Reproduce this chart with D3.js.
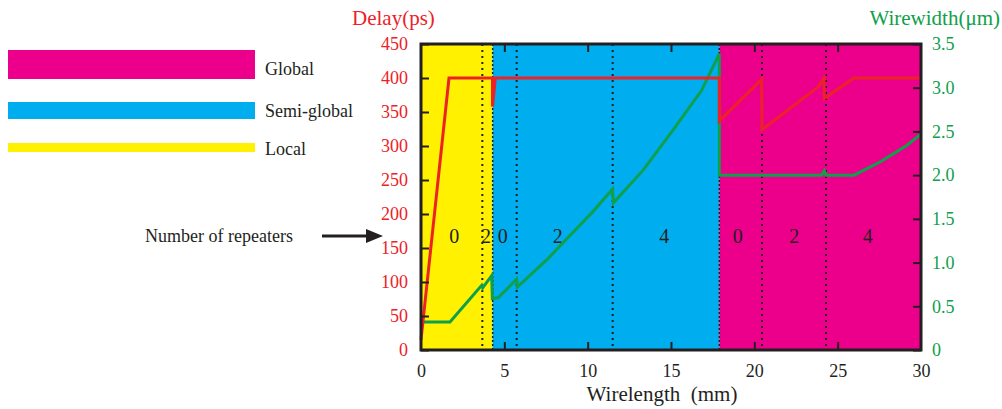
<!DOCTYPE html>
<html><head><meta charset="utf-8">
<script src="https://cdn.jsdelivr.net/npm/d3@7"></script>
<style>
html,body{margin:0;padding:0;background:#fff;}
svg{display:block;}
svg text{font-family:'Liberation Serif','Times New Roman',Times,Tinos,'Noto Serif','DejaVu Serif',FreeSerif,'Nimbus Roman',serif !important;}
</style></head>
<body><svg id="c" width="1002" height="409"></svg>
<script>
// ---- data ----
const regionNames = ["Local", "Semi-global", "Global"];
const regionColors = ["#fff100", "#00adee", "#ec008b"];
const regionStarts = [0, 4.3, 17.9];
const regionEnds = [4.3, 17.9, 30];

const boundaryX = [4.3, 17.9];
const repeaterLineX = [3.68, 5.74, 11.5, 20.46, 24.3];
const repeaterLabelX = [2.0, 3.9, 4.9, 8.2, 14.6, 19.0, 22.4, 26.8];
const repeaterLabels = ["0", "2", "0", "2", "4", "0", "2", "4"];

const delayX = [0, 1.68, 4.29, 4.29, 4.46, 17.9, 17.9, 20.44, 20.46, 23.84, 24.18, 24.2, 25.98, 30];
const delayY = [15, 400, 400, 358, 400, 400, 337, 398, 324, 387, 400, 370, 400, 400];

const widthX = [0, 1.74, 3.64, 3.70, 4.24, 4.28, 4.64, 5.74, 5.78, 7.54, 8.94, 10.3, 11.5, 11.54, 13.34, 15.14, 16.84, 17.9, 17.9, 24.04, 24.2, 24.3, 25.98, 27.54, 29.14, 30];
const widthY = [0.32, 0.32, 0.74, 0.71, 0.85, 0.59, 0.60, 0.81, 0.72, 1.03, 1.31, 1.58, 1.84, 1.68, 2.06, 2.52, 2.97, 3.39, 2.0, 2.0, 2.05, 2.0, 2.0, 2.15, 2.34, 2.47];

const xTicks = [0, 5, 10, 15, 20, 25, 30];
const delayTicks = [0, 50, 100, 150, 200, 250, 300, 350, 400, 450];
const widthTicks = [0, 0.5, 1.0, 1.5, 2.0, 2.5, 3.0, 3.5];

const legendNames = ["Global", "Semi-global", "Local"];
const legendColors = ["#ec008b", "#00adee", "#fff100"];

// ---- layout ----
const svg = d3.select("#c");
const FONT = "'Liberation Serif','Times New Roman',Times,Tinos,'Noto Serif','DejaVu Serif',FreeSerif,serif";
const L = 421, R = 921, T = 44, B = 350;
const x = d3.scaleLinear().domain([0, 30]).range([L, R]);
const yD = d3.scaleLinear().domain([0, 450]).range([B, T]);
const yW = d3.scaleLinear().domain([0, 3.5]).range([B, T]);
const red = "#ec2227", green = "#0ea04b", ink = "#231f20";

// regions
svg.append("g").selectAll("rect").data(regionNames).join("rect")
  .attr("x", (d, i) => x(regionStarts[i]))
  .attr("width", (d, i) => x(regionEnds[i]) - x(regionStarts[i]))
  .attr("y", T).attr("height", B - T)
  .attr("fill", (d, i) => regionColors[i]);

// dotted lines
svg.append("g").selectAll("line").data(repeaterLineX).join("line")
  .attr("x1", d => x(d)).attr("x2", d => x(d)).attr("y1", T).attr("y2", B)
  .attr("stroke", ink).attr("stroke-width", 2).attr("stroke-dasharray", "2,4");
svg.append("g").selectAll("line").data(boundaryX).join("line")
  .attr("x1", d => x(d)).attr("x2", d => x(d)).attr("y1", T).attr("y2", B)
  .attr("stroke", ink).attr("stroke-width", 1.5).attr("stroke-dasharray", "2,2");

// repeater labels
svg.append("g").selectAll("text").data(repeaterLabels).join("text")
  .attr("x", (d, i) => x(repeaterLabelX[i])).attr("y", 243)
  .attr("text-anchor", "middle").attr("font-size", 20).attr("fill", ink)
  .attr("font-family", FONT)
  .text(d => d);

// lines
const lineD = d3.line().x((d, i) => x(delayX[i])).y(d => yD(d));
const lineW = d3.line().x((d, i) => x(widthX[i])).y(d => yW(d));
svg.append("path").datum(widthY).attr("d", lineW).attr("fill", "none")
  .attr("stroke", green).attr("stroke-width", 3).attr("stroke-linejoin", "miter");
svg.append("path").datum(delayY).attr("d", lineD).attr("fill", "none")
  .attr("stroke", red).attr("stroke-width", 3).attr("stroke-linejoin", "miter");

// axes
function styleAxis(g, color) {
  g.attr("font-family", FONT);
  g.select(".domain").remove();
  g.selectAll(".tick line").attr("stroke", ink).attr("stroke-width", 2);
  g.selectAll(".tick text").attr("fill", color).attr("font-size", 18);
}
const inner = [5, 10, 15, 20, 25];
svg.append("g").attr("transform", `translate(0,${B})`)
  .call(d3.axisBottom(x).tickValues(xTicks).tickSize(0).tickPadding(14).tickFormat(d3.format("d")))
  .call(g => styleAxis(g, ink));
svg.append("g").attr("transform", `translate(0,${B})`)
  .call(d3.axisBottom(x).tickValues(inner).tickSize(-8).tickFormat(""))
  .call(g => styleAxis(g, ink));
svg.append("g").attr("transform", `translate(0,${T})`)
  .call(d3.axisTop(x).tickValues(inner).tickSize(-8).tickFormat(""))
  .call(g => styleAxis(g, ink));
svg.append("g").attr("transform", `translate(${L},0)`)
  .call(d3.axisLeft(yD).tickValues(delayTicks).tickSize(-8).tickPadding(13).tickFormat(d3.format("d")))
  .call(g => styleAxis(g, red));
svg.append("g").attr("transform", `translate(${R},0)`)
  .call(d3.axisRight(yW).tickValues(widthTicks).tickSize(-8).tickPadding(11)
    .tickFormat(d => d === 0 ? "0" : d3.format(".1f")(d)))
  .call(g => styleAxis(g, green));

// frame
svg.append("rect").attr("x", L).attr("y", T).attr("width", R - L).attr("height", B - T)
  .attr("fill", "none").attr("stroke", ink).attr("stroke-width", 3);

// axis titles
svg.append("text").attr("x", 352).attr("y", 25).attr("font-size", 21).attr("font-family", FONT).attr("fill", red).text("Delay(ps)");
svg.append("text").attr("x", 1000).attr("y", 25).attr("text-anchor", "end").attr("font-size", 21).attr("font-family", FONT).attr("fill", green).text("Wirewidth(μm)");
svg.append("text").attr("x", 662).attr("y", 401).attr("text-anchor", "middle").attr("font-size", 21).attr("font-family", FONT).attr("fill", ink)
  .style("white-space", "pre").text("Wirelength  (mm)");

// legend
const legTop = [50, 102, 143], legH = [29, 17, 9], legBase = [75, 117, 155];
svg.append("g").selectAll("rect").data(legendNames).join("rect")
  .attr("x", 8).attr("width", 247).attr("y", (d, i) => legTop[i]).attr("height", (d, i) => legH[i])
  .attr("fill", (d, i) => legendColors[i]);
svg.append("g").selectAll("text").data(legendNames).join("text")
  .attr("x", 265).attr("y", (d, i) => legBase[i]).attr("font-size", 18).attr("font-family", FONT).attr("fill", ink).text(d => d);

// annotation
svg.append("text").attr("x", 145).attr("y", 242).attr("font-size", 18).attr("font-family", FONT).attr("fill", ink).text("Number of repeaters");
svg.append("line").attr("x1", 322).attr("x2", 368).attr("y1", 236).attr("y2", 236).attr("stroke", ink).attr("stroke-width", 3);
svg.append("path").attr("d", "M366,229 L383,236 L366,243 Z").attr("fill", ink);
</script></body></html>
